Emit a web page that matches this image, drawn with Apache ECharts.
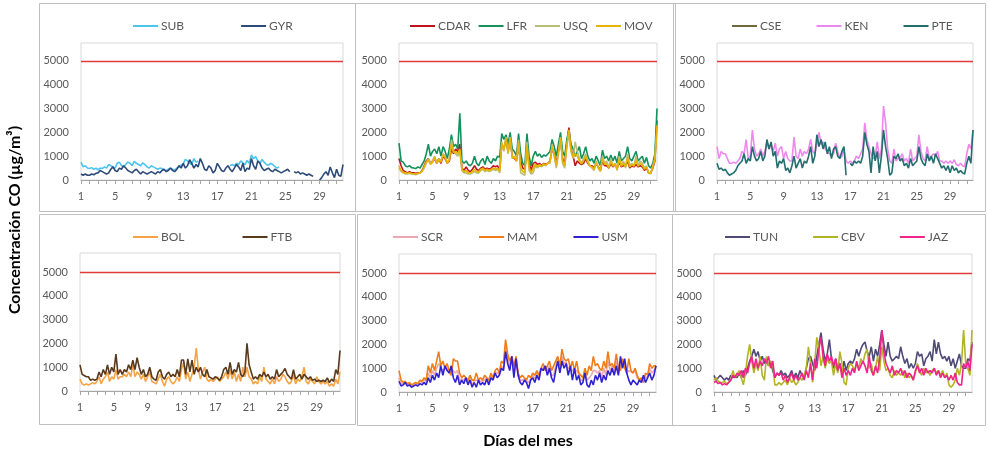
<!DOCTYPE html>
<html>
<head>
<meta charset="utf-8">
<script src="https://cdn.jsdelivr.net/npm/echarts@6/dist/echarts.min.js"></script>
<style>html,body{margin:0;padding:0;background:#fff}#c{width:990px;height:451px}</style>
</head>
<body>
<div id="c"></div>
<script>
const N = null;
// Days of the month, four readings per day
const DAYS = [1,2,3,4,5,6,7,8,9,10,11,12,13,14,15,16,17,18,19,20,21,22,23,24,25,26,27,28,29,30,31];
const HOURS = ['00h','06h','12h','18h'];
const DAY_LABELS = [1,5,9,13,17,21,25,29];
const LIMIT = 5000;
const Y_TICKS = [0,1000,2000,3000,4000,5000];

// Panel 1
const SUB = [750,550,600,500, 480,520,450,500, 430,500,480,550, 500,650,600,550, 500,700,750,600, 550,650,750,700, 600,780,700,650, 600,720,650,550, 500,600,550,500, 450,500,480,420, 400,450,500,450, 420,500,550,620, 680,870,800,700, 650,900,750,800, N,N,N,N, N,N,N,N, N,N,N,N, N,N,600,650, 600,700,650,800, 720,650,820,700, 1050,900,980,800, 700,860,750,650, 620,700,650,560, 500,550,N,N, N,N,N,N, N,N,N,N, N,N,N,N, N,N,N,N, N,N,N,N, N,N,N,N, N,N,N,N];
const GYR = [250,200,250,200, 200,250,220,280, 300,400,350,300, 250,300,450,550, 400,350,500,450, 600,500,400,350, 300,400,450,350, 250,350,300,250, 300,350,300,250, 350,300,400,450, 350,400,500,400, 350,450,600,500, 700,500,600,850, 700,500,650,550, 900,700,450,400, 600,500,300,400, 700,550,400,350, 500,600,450,350, 500,650,550,400, 700,350,500,450, 900,600,450,800, 700,500,400,450, 500,400,350,450, 400,350,300,350, 400,450,350,N, 350,300,350,250, 300,250,200,250, 200,150,N,N, 0,100,250,350, 200,550,300,100, 450,200,150,650];
// Panel 2
const CDAR = [900,600,400,350, 300,350,300,300, 280,300,300,400, 600,800,900,700, 800,900,700,900, 700,1000,900,700, 800,1300,1100,1300, 1200,1500,500,400, 550,400,350,450, 600,450,400,500, 550,450,500,450, 500,600,550,600, 400,1500,1300,1700, 1200,1700,1000,900, 800,1400,800,500, 450,1300,700,400, 700,750,650,700, 600,700,650,700, 800,1300,1100,700, 1200,1700,900,700, 1500,2200,1300,1000, 600,800,700,650, 700,900,700,600, 600,500,700,550, 400,800,600,600, 500,700,550,650, 500,750,550,600, 600,800,500,600, 550,650,550,600, 550,400,500,300, 300,500,800,2500];
const LFR = [1550,800,750,600, 550,600,520,500, 480,550,500,650, 800,1100,1500,1000, 1200,1300,1100,1400, 1000,1400,1200,900, 1300,1900,1400,1500, 1300,2800,800,700, 800,650,600,700, 1000,700,600,800, 900,650,1000,800, 700,900,800,1000, 950,1950,1700,1900, 1500,2000,1300,1200, 1000,1950,1100,700, 600,1950,1000,600, 1000,1200,1000,1100, 950,1050,1000,1100, 1200,1700,1400,1000, 1500,2000,1200,1000, 1700,2100,1500,1300, 1000,1200,1400,900, 1100,1400,1000,800, 900,700,1000,800, 600,1250,900,1000, 800,1050,800,1000, 700,1200,800,900, 1000,1400,900,800, 1000,1200,800,900, 1000,700,950,600, 500,700,1100,3000];
const USQ = [500,350,300,250, 250,280,250,240, 220,250,300,350, 500,700,900,700, 800,1000,700,900, 800,1100,1000,700, 900,1700,1200,1100, 1000,1200,400,300, 300,250,250,300, 350,300,300,400, 450,350,400,350, 400,450,400,450, 300,1600,1200,1800, 1100,1800,900,1000, 800,1700,300,250, 200,1600,400,250, 300,600,500,600, 550,650,600,700, 700,1500,1000,500, 1100,1800,700,500, 1400,2000,1200,900, 1600,1200,900,700, 900,1100,800,600, 500,400,800,500, 350,1000,700,800, 500,900,600,700, 400,1000,600,800, 500,1100,600,700, 600,1000,600,800, 700,500,600,300, 250,600,900,2100];
const MOV = [600,400,320,300, 280,300,270,260, 250,280,300,380, 550,750,850,650, 750,950,700,850, 750,1050,950,700, 850,1500,1150,1200, 1100,1300,450,350, 400,300,300,350, 450,350,350,450, 500,400,450,400, 450,500,450,500, 350,1550,1250,1750, 1150,1750,950,950, 800,1550,550,350, 300,1450,550,300, 500,650,550,650, 580,680,620,700, 750,1400,1050,600, 1150,1750,800,600, 1450,2100,1250,950, 1100,1000,800,680, 800,1000,750,600, 550,450,750,520, 380,900,650,700, 500,800,580,680, 450,880,580,700, 550,950,550,650, 580,820,580,700, 620,450,550,300, 280,550,850,2300];
// Panel 3
const CSE = [];
const KEN = [1400,900,1200,1100, 1100,900,700,700, 750,700,800,900, 1200,1100,1700,900, 1000,2100,1300,1000, 1100,1300,1000,1200, 1600,1300,1500,1200, 1550,1000,1300,1400, 900,1200,900,800, 800,1800,1000,900, 1300,1000,1200,1100, 1300,1700,1200,1100, 1500,2000,1500,1600, 1300,1200,1100,1000, 1100,1550,1200,900, 1000,1300,800,700, 800,700,800,1000, 900,1100,1300,2400, 1700,1400,1100,900, 1000,1600,900,1300, 3100,2400,1300,800, 700,1300,800,900, 900,1100,800,900, 700,1300,800,900, 1000,1900,1200,900, 800,1400,900,1000, 1100,1000,1200,800, 800,700,800,700, 800,700,850,650, 600,700,600,550, 1100,1500,1300,2100];
const PTE = [700,450,500,400, 450,300,200,250, 300,400,600,700, 800,1100,700,900, 800,1400,1000,800, 900,1200,800,1000, 1700,1300,1600,1000, 1200,500,800,700, 900,400,500,300, 600,1000,500,700, 900,500,800,700, 1000,1400,700,1000, 1900,1400,1700,1300, 1600,1100,1400,900, 1300,1400,1000,900, 1200,1400,200,N, 700,600,800,700, 800,700,1000,2000, 1500,1200,300,1400, 800,1200,300,1000, 2100,1400,900,200, 300,1000,900,1100, 800,900,600,700, 500,900,600,700, 800,1400,900,700, 600,1100,800,1000, 700,1100,900,700, 500,600,400,600, 300,600,400,500, 300,400,300,250, 700,1000,700,2100];
// Panel 4
const BOL = [500,300,250,300, 250,300,350,300, 400,600,300,500, 600,800,400,600, 500,900,500,600, 600,700,600,800, 600,1100,600,800, 700,500,700,400, 600,800,400,350, 300,500,700,400, 200,500,600,400, 300,400,600,400, 900,1200,500,800, 400,700,1000,1800, 900,500,800,1000, 500,400,500,400, 500,600,400,500, 600,800,500,900, 500,800,400,700, 400,1000,600,1000, 600,500,300,400, 300,600,400,1000, 500,400,300,500, 300,600,400,500, 700,600,400,300, 400,700,300,500, 400,600,1000,400, 300,500,400,300, 600,400,300,400, 300,400,200,300, 200,500,300,800];
const FTB = [1100,700,650,600, 600,450,500,450, 500,800,600,900, 700,1100,700,1000, 800,1550,700,900, 700,900,800,1100, 900,1300,900,1400, 1000,700,900,600, 700,1000,600,500, 450,800,900,600, 500,700,800,600, 700,600,900,600, 1300,1300,700,1350, 800,1300,700,1000, 800,1000,700,600, 900,600,550,500, 600,550,450,600, 900,1000,700,1200, 700,900,800,1200, 700,600,800,2000, 1100,800,500,600, 500,700,600,800, 600,700,500,600, 500,900,600,700, 800,950,700,600, 500,900,500,600, 700,500,700,600, 500,600,450,500, 400,450,400,450, 400,550,350,500, 400,900,700,1700];
// Panel 5
const SCR = [600,350,350,400, 300,350,250,300, 350,300,450,400, 500,400,800,600, 900,700,1000,1200, 1000,900,1000,1000, 800,900,900,800, 900,500,550,500, 600,400,600,300, 450,500,500,450, 450,500,600,400, 700,550,850,800, 750,1100,1000,1900, 1400,1100,1500,800, 1400,700,500,500, 550,450,400,550, 700,550,800,600, 1000,1000,1000,900, 1100,700,700,1100, 1400,900,1500,1200, 1250,1000,1000,900, 900,900,750,500, 500,900,500,600, 700,900,900,800, 900,600,1000,700, 1300,900,1100,800, 1300,800,1200,1200, 1200,800,900,850, 800,900,600,500, 500,600,600,650, 1000,800,900,1100];
const MAM = [900,500,400,450, 350,400,300,350, 400,350,500,450, 600,500,1100,800, 1200,900,1300,1700, 1100,1300,1000,1200, 900,700,1400,1300, 1300,800,600,700, 600,500,700,500, 500,800,500,600, 500,700,600,500, 800,600,900,1000, 800,1300,1200,2200, 1600,1300,1500,1100, 1500,800,600,700, 600,500,700,600, 800,700,900,700, 1000,1200,900,1100, 1300,900,1100,1300, 1500,1100,1800,1400, 1300,1400,1000,1300, 900,1300,800,700, 600,1000,700,1100, 900,1500,1100,1200, 1000,900,1300,1000, 1700,1100,1200,1000, 1600,1000,900,1400, 1000,800,1400,900, 800,1000,700,500, 600,400,800,700, 1200,1000,1100,1100];
const USM = [450,250,300,400, 250,300,200,250, 300,250,350,300, 400,300,600,400, 700,500,800,600, 1100,700,1100,900, 800,1100,600,400, 700,300,500,350, 600,300,500,200, 400,200,500,300, 400,300,550,300, 600,500,800,600, 700,1000,900,1700, 1200,900,1500,600, 1400,700,400,300, 500,400,150,500, 600,400,700,500, 1000,900,1100,700, 1000,600,400,900, 1300,800,1300,1000, 1200,700,1100,500, 1000,500,700,300, 400,800,300,200, 500,300,700,500, 800,400,700,500, 900,700,1000,700, 1100,700,1500,1000, 1400,800,500,300, 500,400,300,500, 400,700,400,600, 800,500,700,1100];
// Panel 6
const TUN = [700,500,600,700, 600,500,600,500, 700,600,700,600, 800,600,900,700, 1000,1300,1500,1800, 1500,1700,1300,1500, 1200,1400,1100,1300, 900,600,800,700, 900,700,800,600, 700,900,600,800, 600,900,700,600, 1000,1400,1500,1200, 900,1500,2000,2500, 1800,1300,1600,2200, 1400,1000,1400,900, 1200,800,1300,900, 1200,1300,1200,1400, 1800,1500,1800,2000, 2100,1700,1500,1900, 1300,1800,1500,2000, 2600,2000,1500,2100, 1500,1300,1400,1500, 1400,1900,1500,1200, 1400,1000,1200,1000, 1200,1700,1500,1600, 1100,1400,1500,1700, 1300,2200,1600,2100, 1600,1400,1500,1300, 1500,1100,1400,1000, 1300,1600,1100,1000, 1000,1400,1300,2100];
const CBV = [500,600,450,400, 400,450,350,400, 500,900,600,700, 900,600,300,800, 1500,2000,1300,800, 1200,900,1500,700, 500,1500,1100,1300, 1200,300,300,400, 300,400,500,300, 600,400,500,300, 400,600,500,700, 1000,1900,1200,400, 1200,2300,1800,1100, 1500,1000,1400,1200, 1300,700,1200,800, 1700,1200,400,300, 1000,1200,1100,900, 1200,1000,1400,1200, 1600,1800,1000,1200, 700,1000,1500,900, 1900,1300,900,1000, 700,600,900,700, 800,700,900,600, 800,600,700,500, 800,1200,900,700, 1000,800,900,700, 900,1000,800,900, 700,900,600,800, 300,200,300,500, 1000,700,1200,2600, 1200,1000,700,2600];
const JAZ = [400,450,350,400, 300,350,300,400, 500,700,600,800, 700,900,600,1000, 800,1200,1500,1000, 1400,1000,1300,1100, 1400,1200,1500,1000, 1300,600,800,700, 800,500,700,400, 600,800,500,700, 500,600,800,500, 900,600,1200,500, 1400,1000,1800,2300, 1500,1100,1600,1300, 1500,1100,1400,900, 1200,600,1000,700, 900,700,1000,800, 1300,900,1100,1300, 1100,800,1500,900, 700,1100,800,1400, 2600,1700,1200,1000, 800,1100,700,900, 800,1000,700,900, 600,800,700,500, 900,1100,800,1000, 700,1000,800,900, 800,1000,700,900, 600,800,600,700, 500,700,500,800, 400,300,300,1200, 1000,1300,900,2000];

const COLORS = {
  SUB:'#4cc4ef', GYR:'#2e4a78',
  CDAR:'#c0141c', LFR:'#14905a', USQ:'#b9bd78', MOV:'#e8b400',
  CSE:'#6e6a3a', KEN:'#ee88ee', PTE:'#236e6e',
  BOL:'#f5a345', FTB:'#5a3a1c',
  SCR:'#eca8b2', MAM:'#ee7d1a', USM:'#3022d0',
  TUN:'#4f4a78', CBV:'#b3b326', JAZ:'#f0248a'
};
const LIMIT_COLOR = '#e03a3a';

const PANELS = [
  {names:['SUB','GYR'], data:[SUB,GYR]},
  {names:['CDAR','LFR','USQ','MOV'], data:[CDAR,LFR,USQ,MOV]},
  {names:['CSE','KEN','PTE'], data:[CSE,KEN,PTE]},
  {names:['BOL','FTB'], data:[BOL,FTB]},
  {names:['SCR','MAM','USM'], data:[SCR,MAM,USM]},
  {names:['TUN','CBV','JAZ'], data:[TUN,CBV,JAZ]}
];

// layout (pixels)
const GRIDS = [
  {left:81, top:43, width:262, height:137},
  {left:399, top:43, width:258, height:137},
  {left:717, top:43, width:256, height:137},
  {left:80, top:253, width:260, height:138},
  {left:399, top:254, width:257, height:138},
  {left:714, top:254, width:258, height:138}
];
const LEGENDS = [
  {left:133, top:20, gap:57},
  {left:410, top:20, gap:8},
  {left:732, top:20, gap:35},
  {left:133, top:231, gap:58},
  {left:393, top:231, gap:36},
  {left:725, top:231, gap:35}
];
const BOXES = [
  [39,3,316,208],[355,3,320,208],[673,3,312,208],
  [39,214,316,210],[357,214,315,211],[672,214,313,211]
];

const CATEGORIES = [];
DAYS.forEach(d => HOURS.forEach(h => CATEGORIES.push(d + ' ' + h)));

const FONT = 'Lato, "Open Sans", sans-serif';
const option = {
  animation:false,
  textStyle:{fontFamily:FONT},
  grid: GRIDS.map(g => Object.assign({show:true, borderColor:'#d9d9d9', borderWidth:1, containLabel:false}, g)),
  legend: PANELS.map((p,i) => ({
    data:p.names, left:LEGENDS[i].left, top:LEGENDS[i].top, itemGap:LEGENDS[i].gap,
    padding:0, icon:'rect', itemWidth:25, itemHeight:2, selectedMode:false,
    textStyle:{color:'#595959', fontSize:12, fontFamily:FONT, padding:[0,0,0,-2]}
  })),
  xAxis: PANELS.map((p,i) => ({
    type:'category', gridIndex:i, data:CATEGORIES, boundaryGap:false,
    axisLine:{lineStyle:{color:'#a6a6a6'}},
    axisTick:{interval:(idx) => idx % HOURS.length === 0, length:4, lineStyle:{color:'#a6a6a6'}},
    axisLabel:{
      interval:(idx, val) => DAY_LABELS.indexOf(+val.split(' ')[0]) >= 0 && idx % HOURS.length === 0,
      formatter:(val) => val.split(' ')[0],
      color:'#595959', fontSize:11, margin:11, fontFamily:FONT
    },
    splitLine:{show:false}
  })),
  yAxis: PANELS.map((p,i) => ({
    type:'value', gridIndex:i, min:0, max: i < 3 ? 5750 : 5800, interval:1000,
    axisLine:{show:false}, axisTick:{show:false}, splitLine:{show:false},
    axisLabel:{color:'#595959', fontSize:11, margin:12, fontFamily:FONT,
      formatter:(v) => Y_TICKS.indexOf(v) >= 0 ? String(v) : ''}
  })),
  series: [],
  graphic: []
};

PANELS.forEach((p,i) => {
  p.names.forEach((n,k) => {
    const s = {
      name:n, type:'line', xAxisIndex:i, yAxisIndex:i, data:p.data[k],
      showSymbol:false, symbol:'none', connectNulls:false,
      lineStyle:{width:1.6, color:COLORS[n]}, itemStyle:{color:COLORS[n]}
    };
    if (k === p.names.length - 1) {
      s.markLine = {silent:true, symbol:['none','none'], label:{show:false},
        lineStyle:{color:LIMIT_COLOR, type:'solid', width:1.3},
        data:[{yAxis:LIMIT}]};
    }
    option.series.push(s);
  });
});

BOXES.forEach(b => option.graphic.push({
  type:'rect', shape:{x:b[0]+0.5, y:b[1]+0.5, width:b[2], height:b[3]},
  style:{fill:'none', stroke:'#bfbfbf', lineWidth:1}, silent:true, z:-1
}));
option.graphic.push({
  type:'text', x:15, y:220, rotation:Math.PI/2,
  style:{text:'Concentración CO (µg/m³)', align:'center', verticalAlign:'middle',
    textAlign:'center', textVerticalAlign:'middle',
    font:'bold 16px ' + FONT, fill:'#000'}
});
option.graphic.push({
  type:'text', x:528, y:441,
  style:{text:'Días del mes', align:'center', verticalAlign:'middle',
    textAlign:'center', textVerticalAlign:'middle',
    font:'bold 16px ' + FONT, fill:'#000'}
});

const chart = echarts.init(document.getElementById('c'), null, {renderer:'canvas'});
chart.setOption(option);
</script>
</body>
</html>
